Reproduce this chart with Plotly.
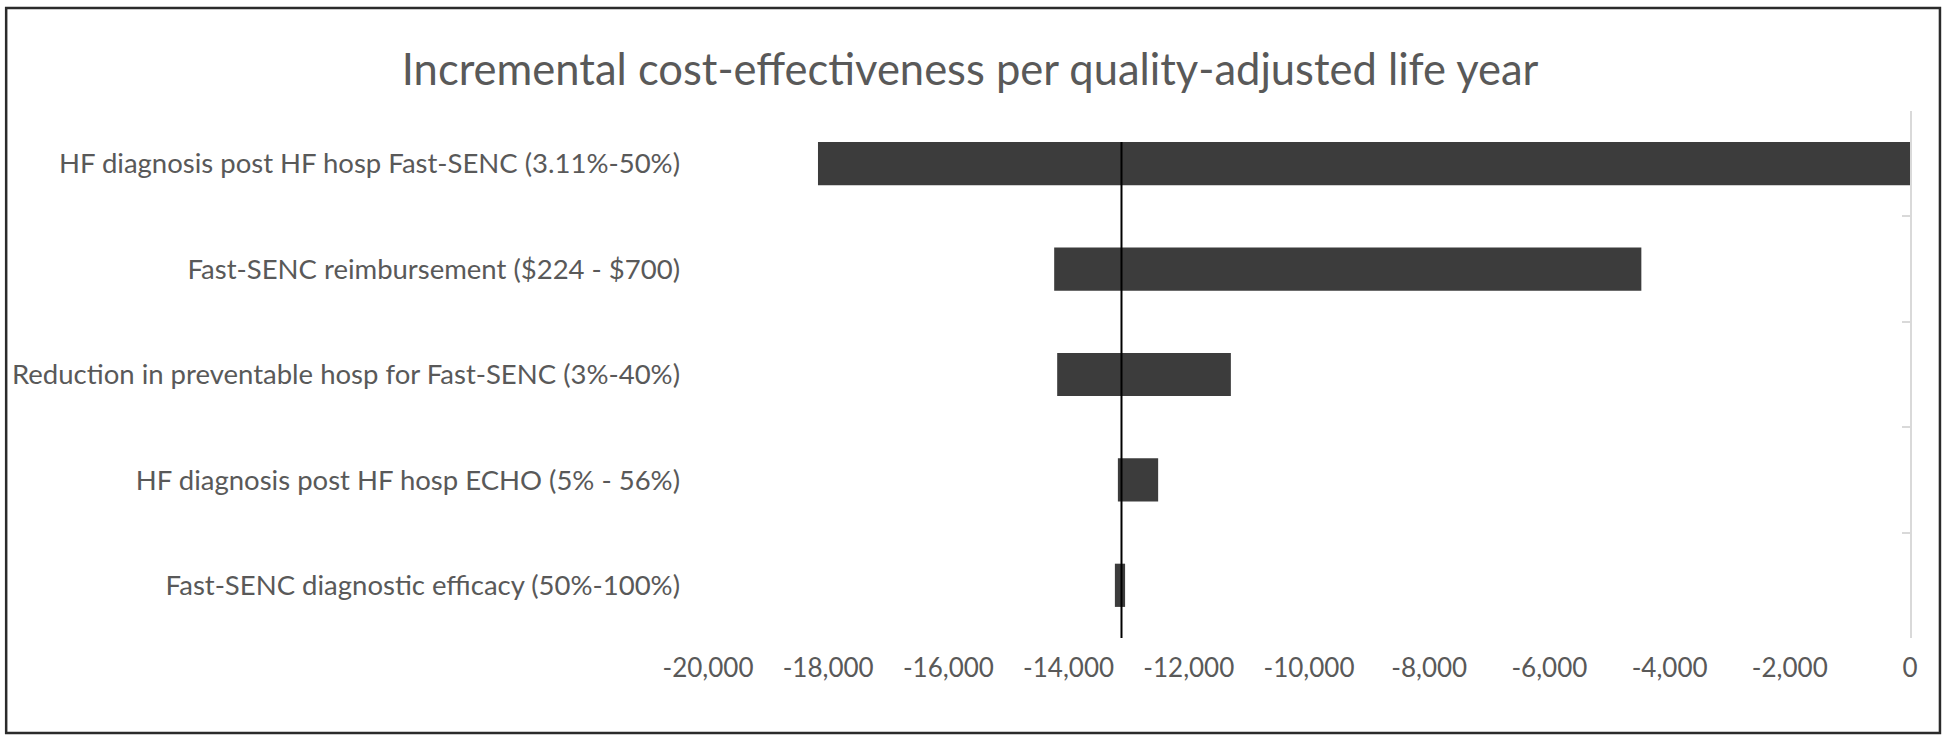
import plotly.graph_objects as go

# ---- data (top to bottom) ----
categories = [
    "HF diagnosis post HF hosp Fast-SENC (3.11%-50%)",
    "Fast-SENC reimbursement ($224 - $700)",
    "Reduction in preventable hosp for Fast-SENC (3%-40%)",
    "HF diagnosis post HF hosp ECHO (5% - 56%)",
    "Fast-SENC diagnostic efficacy (50%-100%)",
]
low_values = [-18170, -14240, -14190, -13180, -13230]
high_values = [0, -4470, -11300, -12510, -13060]
base_case = -13120
x_ticks = list(range(-20000, 1, 2000))
x_tick_labels = [f"{v:,}" for v in x_ticks]

n = len(categories)
y_pos = [n - 1 - i for i in range(n)]
bar_width = 0.41

TEXT = "#595959"
FONT = "Lato"

fig = go.Figure()
fig.add_trace(go.Bar(
    y=y_pos,
    x=[h - l for l, h in zip(low_values, high_values)],
    base=low_values,
    orientation="h",
    width=bar_width,
    marker=dict(color="#3c3c3c", line=dict(width=0)),
    showlegend=False,
    hoverinfo="skip",
))
# base-case vertical line (on overlay axis that also draws the value-axis line at x=0)
fig.add_trace(go.Scatter(
    x=[base_case, base_case],
    y=[-0.5, (n - 1) + bar_width / 2],
    mode="lines",
    line=dict(color="black", width=2),
    yaxis="y2",
    showlegend=False,
    hoverinfo="skip",
))

fig.update_layout(
    width=1946,
    height=737,
    paper_bgcolor="white",
    plot_bgcolor="white",
    margin=dict(l=706, r=36, t=111, b=99),
    title=dict(
        text="Incremental cost-effectiveness per quality-adjusted life year",
        x=0.4985, xanchor="center", xref="container",
        y=1 - 69.5 / 737, yanchor="middle", yref="container",
        font=dict(family=FONT, size=43.5, color=TEXT),
    ),
    xaxis=dict(
        range=[-20000, 0],
        tickvals=x_ticks,
        ticktext=x_tick_labels,
        ticks="",
        showline=False,
        showgrid=False,
        zeroline=False,
        tickfont=dict(family=FONT, size=26, color=TEXT),
        ticklabelstandoff=12,
        fixedrange=True,
    ),
    yaxis=dict(
        range=[-0.5, n - 0.5],
        tickvals=y_pos,
        ticktext=categories,
        ticks="",
        showline=False,
        showgrid=False,
        zeroline=False,
        tickfont=dict(family=FONT, size=27.5, color=TEXT),
        ticklabelstandoff=27,
        fixedrange=True,
    ),
    yaxis2=dict(
        overlaying="y",
        side="right",
        range=[-0.5, n - 0.5],
        tickvals=[i - 0.5 for i in range(n + 1)],
        ticks="inside",
        ticklen=8,
        tickwidth=2,
        tickcolor="#d9d9d9",
        showline=True,
        linecolor="#d9d9d9",
        linewidth=2,
        showticklabels=False,
        showgrid=False,
        zeroline=False,
        fixedrange=True,
    ),
    showlegend=False,
    shapes=[
        dict(
            type="rect", xref="paper", yref="paper",
            x0=(3 - 706) / 1204, x1=(1940 - 706) / 1204,
            y0=(637 - 732) / 527, y1=(637 - 7) / 527,
            line=dict(color="#2b2b2b", width=2.5),
            fillcolor="rgba(0,0,0,0)",
            layer="below",
        )
    ],
)

fig.write_html(
    "out.html",
    config={"displayModeBar": False},
    post_script="document.body.style.margin='0';document.body.style.overflow='hidden';",
)
